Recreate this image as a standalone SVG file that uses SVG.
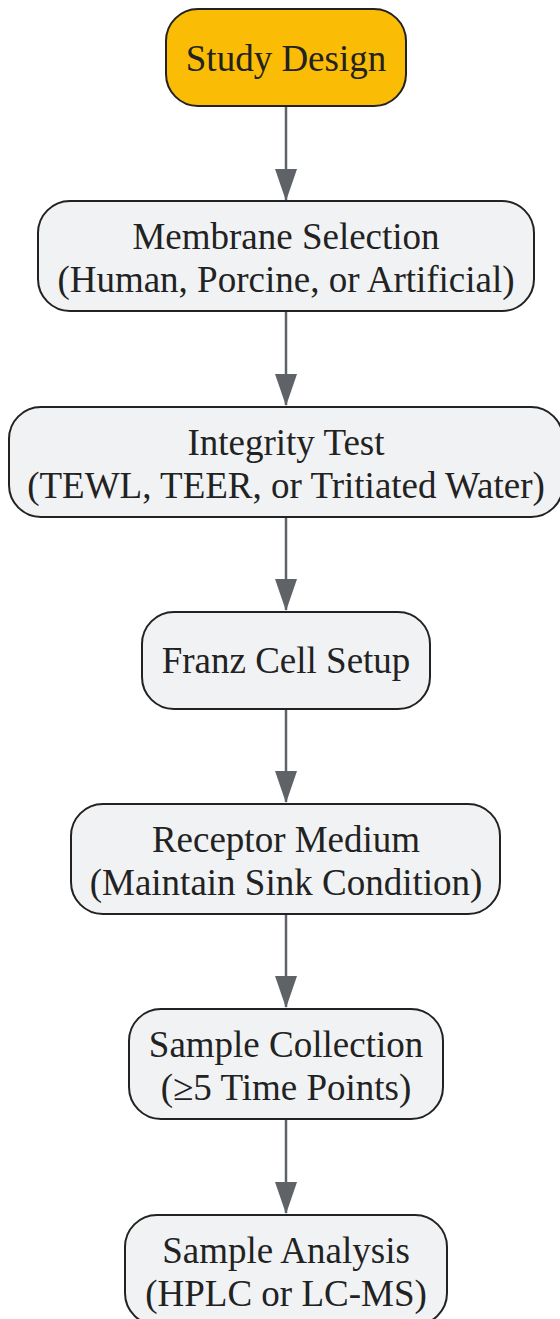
<svg xmlns="http://www.w3.org/2000/svg" width="560" height="1319" viewBox="0 0 560 1319">
<defs>
<style>
.n{fill:#F1F2F4;stroke:#222222;stroke-width:2}
.s{fill:#FABC05;stroke:#222222;stroke-width:2}
.t{font-family:"Liberation Serif","Times New Roman",serif;font-size:37px;fill:#222222;text-anchor:middle}
.e{stroke:#5F6368;stroke-width:2.5;fill:none;marker-end:url(#ah)}
</style>
<marker id="ah" viewBox="0 0 32 22" refX="31" refY="11" markerUnits="userSpaceOnUse" markerWidth="32" markerHeight="22" orient="auto">
<path d="M0,0 L32,11 L0,22 Z" fill="#5F6368"/>
</marker>
</defs>
<rect width="560" height="1319" fill="#FFFFFF"/>
<g id="connectors">
<path class="e" d="M286,106 L286,200"/>
<path class="e" d="M286,311 L286,405"/>
<path class="e" d="M286,517 L286,610"/>
<path class="e" d="M286,709 L286,802"/>
<path class="e" d="M286,914 L286,1007"/>
<path class="e" d="M286,1119 L286,1213"/>
</g>
<g id="study-design">
<rect class="s" x="166" y="9" width="240" height="97" rx="32"/>
<text class="t" x="286" y="71">Study Design</text>
</g>
<g id="membrane-selection">
<rect class="n" x="38" y="201" width="496" height="110" rx="32"/>
<text class="t" x="286" y="249">Membrane Selection</text>
<text class="t" x="286" y="292">(Human, Porcine, or Artificial)</text>
</g>
<g id="integrity-test">
<rect class="n" x="9" y="407" width="554" height="110" rx="32"/>
<text class="t" x="286" y="455">Integrity Test</text>
<text class="t" x="286" y="498">(TEWL, TEER, or Tritiated Water)</text>
</g>
<g id="franz-cell-setup">
<rect class="n" x="142" y="612" width="288" height="97" rx="32"/>
<text class="t" x="286" y="673">Franz Cell Setup</text>
</g>
<g id="receptor-medium">
<rect class="n" x="71" y="804" width="429" height="110" rx="32"/>
<text class="t" x="286" y="852">Receptor Medium</text>
<text class="t" x="286" y="895">(Maintain Sink Condition)</text>
</g>
<g id="sample-collection">
<rect class="n" x="129" y="1009" width="314" height="110" rx="32"/>
<text class="t" x="286" y="1057">Sample Collection</text>
<text class="t" x="286" y="1100">(≥5 Time Points)</text>
</g>
<g id="sample-analysis">
<rect class="n" x="125" y="1215" width="322" height="110" rx="32"/>
<text class="t" x="286" y="1263">Sample Analysis</text>
<text class="t" x="286" y="1306">(HPLC or LC-MS)</text>
</g>
</svg>
